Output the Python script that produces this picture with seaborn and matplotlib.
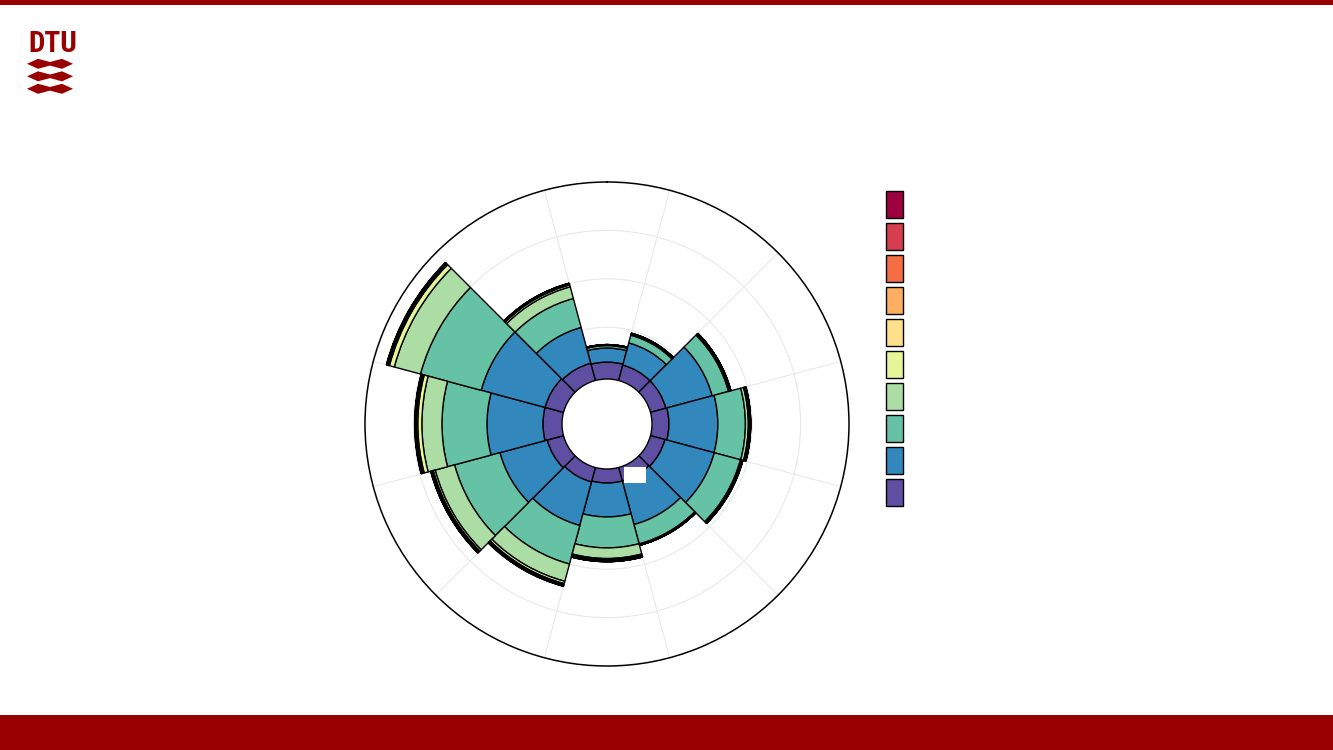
import numpy as np
import matplotlib
matplotlib.use("Agg")
import matplotlib.pyplot as plt
from matplotlib import font_manager
import seaborn as sns
from matplotlib.patches import Polygon, Rectangle

# ---------------- data (percent frequency per direction sector) ----------------
directions_deg = [0, 30, 60, 90, 120, 150, 180, 210, 240, 270, 300, 330]
calm = 1.86
bin_1 = [0.70, 0.66, 0.66, 0.70, 0.62, 0.58, 0.58, 0.62, 0.70, 0.79, 0.79, 0.74]
bin_2 = [0.58, 0.95, 1.98, 2.02, 2.11, 1.86, 1.40, 1.86, 2.02, 2.31, 2.73, 1.53]
bin_3 = [0.10, 0.33, 0.70, 1.14, 1.12, 0.83, 1.28, 1.65, 1.94, 1.86, 2.60, 1.24]
bin_4 = [0.02, 0.04, 0.04, 0.12, 0.04, 0.02, 0.44, 0.74, 0.83, 0.83, 1.12, 0.50]
bin_5 = [0.01, 0.02, 0.02, 0.03, 0.02, 0.01, 0.05, 0.10, 0.08, 0.17, 0.21, 0.08]
bin_6 = [0.01, 0.01, 0.02, 0.03, 0.02, 0.02, 0.04, 0.05, 0.05, 0.06, 0.06, 0.04]
bin_7 = [0.00, 0.01, 0.01, 0.02, 0.01, 0.01, 0.02, 0.03, 0.03, 0.03, 0.03, 0.02]
bin_8 = [0.00, 0.00, 0.01, 0.01, 0.01, 0.00, 0.01, 0.02, 0.02, 0.02, 0.02, 0.01]
bin_9 = [0.00, 0.00, 0.00, 0.01, 0.00, 0.00, 0.01, 0.01, 0.01, 0.01, 0.01, 0.00]
bin_10 = [0.00, 0.00, 0.00, 0.00, 0.00, 0.00, 0.00, 0.00, 0.00, 0.01, 0.01, 0.00]
bins = [bin_1, bin_2, bin_3, bin_4, bin_5, bin_6, bin_7, bin_8, bin_9, bin_10]
radial_ticks = [2, 4, 6, 8]
r_max = 10

# ---------------- style ----------------
sns.set_style("white")
spectral10 = ["#5e4fa2", "#3288bd", "#66c2a5", "#abdda4", "#e6f598",
              "#fee08b", "#fdae61", "#f46d43", "#d53e4f", "#9e0142"]
palette = sns.color_palette(spectral10)
DTU_RED = "#990000"

available = {f.name for f in font_manager.fontManager.ttflist}
logo_family = "DejaVu Sans"
logo_stretch = "normal"
for fam in ["Liberation Sans Narrow", "DejaVu Sans Condensed", "Roboto Condensed"]:
    if fam in available:
        logo_family = fam
        break
else:
    logo_stretch = "condensed"

W, H = 1333, 750
fig = plt.figure(figsize=(W / 100, H / 100), dpi=100)
fig.patch.set_facecolor("white")

# polar axes placement (center ~ (607,424), radius ~242 px)
ax = fig.add_axes([365 / W, (H - 666) / H, 484 / W, 484 / H], projection="polar")
ax.set_theta_zero_location("N")
ax.set_theta_direction(-1)
ax.set_axisbelow(True)

theta = np.deg2rad(directions_deg)
width = 2 * np.pi / len(directions_deg)

# calm circle (white, hides the grid in the centre)
ax.bar(0, calm, width=2 * np.pi, bottom=0, color="white", edgecolor="none", zorder=1.5)

bottom = np.full(len(directions_deg), calm)
handles = []
for i, vals in enumerate(bins):
    vals = np.asarray(vals)
    bars = ax.bar(theta, vals, width=width, bottom=bottom, color=palette[i],
                  edgecolor="black", linewidth=1.0, align="center", zorder=2)
    handles.append(bars)
    bottom = bottom + vals

ax.set_ylim(0, r_max)
ax.set_yticks(radial_ticks)
ax.set_yticklabels([])
ax.set_xticks(np.deg2rad(np.arange(15, 360, 30)))
ax.set_xticklabels([])
ax.grid(True, color="#e6e6e6", linewidth=0.7)
ax.spines["polar"].set_color("black")
ax.spines["polar"].set_linewidth(1.1)

# legend (no text labels as in reference)
leg = fig.legend(handles[::-1], [""] * len(handles), loc="upper left",
                 bbox_to_anchor=(886 / W, 1 - 191 / H), frameon=False,
                 fontsize=12, handlelength=1.02, handleheight=2.115,
                 labelspacing=0.3, borderpad=0, borderaxespad=0,
                 handletextpad=0.2)

# white label box near center
fig.patches.append(Rectangle((624 / W, 1 - 483 / H), 22 / W, 16 / H,
                             transform=fig.transFigure, facecolor="white",
                             edgecolor="none", zorder=10))

# DTU branding bands
fig.patches.append(Rectangle((0, 1 - 5 / H), 1, 5 / H, transform=fig.transFigure,
                             facecolor=DTU_RED, edgecolor="none", zorder=10))
fig.patches.append(Rectangle((0, 0), 1, 35 / H, transform=fig.transFigure,
                             facecolor=DTU_RED, edgecolor="none", zorder=10))

# DTU logo
fig.text(28 / W, 1 - 51.7 / H, "DTU", color=DTU_RED, fontsize=21,
         family=logo_family, fontstretch=logo_stretch, fontweight="bold",
         va="baseline", ha="left")
for c in [63.8, 76.3, 88.8]:
    pts = [(27.0, c), (38, c - 5.0), (50, c - 1.8), (62, c - 5.0), (73.0, c),
           (62, c + 5.0), (50, c + 1.8), (38, c + 5.0)]
    fig.patches.append(Polygon([(x / W, 1 - y / H) for x, y in pts], closed=True,
                               transform=fig.transFigure, facecolor=DTU_RED,
                               edgecolor="none", zorder=10))

fig.savefig("out.png", dpi=100, facecolor="white")
